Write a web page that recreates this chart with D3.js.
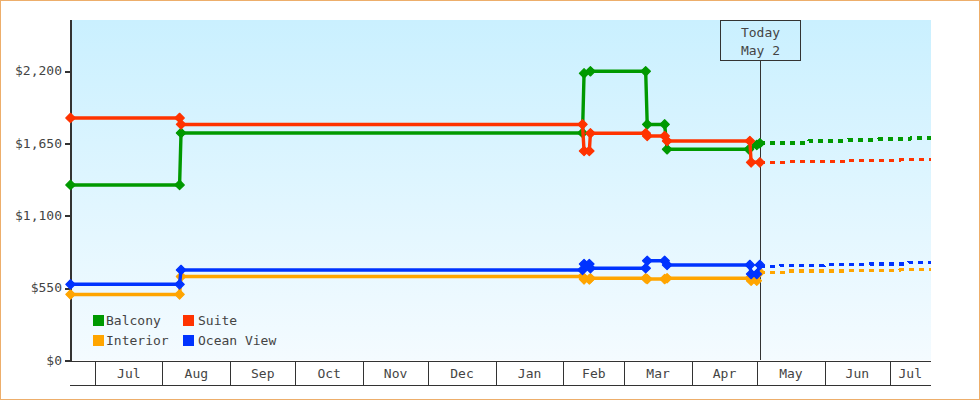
<!DOCTYPE html>
<html><head><meta charset="utf-8">
<style>
html,body{margin:0;padding:0;background:#fff}
svg{display:block}
text{font-family:"DejaVu Sans Mono",monospace;font-size:13px;fill:#444}
</style>
<script src="https://cdn.jsdelivr.net/npm/d3@7"></script>
</head><body><svg id="c" width="980" height="400"></svg>
<script>
const seriesNames = ["Balcony","Suite","Interior","Ocean View"];
const seriesColors = ["#009900","#ff3300","#ffa500","#0033ff"];
const yTicks = [0,550,1100,1650,2200];
const monthStarts = ["2014-07-01","2014-08-01","2014-09-01","2014-10-01","2014-11-01","2014-12-01","2015-01-01","2015-02-01","2015-03-01","2015-04-01","2015-05-01","2015-06-01","2015-07-01"];
const monthLabels = ["Jul","Aug","Sep","Oct","Nov","Dec","Jan","Feb","Mar","Apr","May","Jun","Jul"];
const xStart = "2014-06-19T12:00", xEnd = "2015-07-19T14:00", today = "2015-05-02T00:00";

const balconyDates = ["2014-06-19T12:00","2014-08-08T14:00","2014-08-09T06:00","2015-02-09T14:00","2015-02-10T07:00","2015-02-13T05:00","2015-03-10T14:00","2015-03-11T07:00","2015-03-19T07:00","2015-03-20T10:00","2015-04-27T00:00","2015-04-30T14:00","2015-05-02T00:00"];
const balconyValues = [1334,1334,1729,1729,2182,2198,2198,1794,1794,1605,1605,1638,1651];
const suiteDates = ["2014-06-19T12:00","2014-08-08T14:00","2014-08-09T06:00","2015-02-09T14:00","2015-02-10T07:00","2015-02-12T17:00","2015-02-13T05:00","2015-03-10T14:00","2015-03-11T07:00","2015-03-19T07:00","2015-03-20T10:00","2015-04-27T10:00","2015-04-28T00:00","2015-05-02T00:00"];
const suiteValues = [1843,1843,1794,1794,1592,1592,1727,1727,1706,1706,1668,1668,1506,1506];
const interiorDates = ["2014-06-19T12:00","2014-08-08T14:00","2014-08-09T06:00","2015-02-09T14:00","2015-02-10T07:00","2015-02-12T17:00","2015-02-13T05:00","2015-03-10T14:00","2015-03-11T07:00","2015-03-19T07:00","2015-03-20T10:00","2015-04-27T10:00","2015-04-28T00:00","2015-04-30T14:00","2015-05-02T00:00"];
const interiorValues = [502,502,638,638,617,617,625,625,619,619,625,625,606,606,670];
const oceanDates = ["2014-06-19T12:00","2014-08-08T14:00","2014-08-09T06:00","2015-02-09T14:00","2015-02-10T07:00","2015-02-12T17:00","2015-02-13T05:00","2015-03-10T14:00","2015-03-11T07:00","2015-03-19T07:00","2015-03-20T10:00","2015-04-27T10:00","2015-04-28T00:00","2015-04-30T14:00","2015-05-02T00:00"];
const oceanValues = [579,579,688,688,733,733,701,701,758,758,726,726,657,657,726];

const balconyFutureDates = ["2015-05-02T00:00","2015-05-24T00:00","2015-05-24T12:00","2015-06-11T00:00","2015-06-11T12:00","2015-06-25T00:00","2015-06-25T12:00","2015-07-10T00:00","2015-07-10T12:00","2015-07-19T14:00"];
const balconyFutureValues = [1651,1651,1668,1668,1676,1676,1681,1681,1689,1689];
const suiteFutureDates = ["2015-05-02T00:00","2015-05-15T00:00","2015-05-15T12:00","2015-06-11T00:00","2015-06-11T12:00","2015-07-05T00:00","2015-07-05T12:00","2015-07-19T14:00"];
const suiteFutureValues = [1506,1506,1511,1511,1521,1521,1526,1526];
const interiorFutureDates = ["2015-05-02T00:00","2015-05-15T00:00","2015-05-15T12:00","2015-06-11T00:00","2015-06-11T12:00","2015-07-05T00:00","2015-07-05T12:00","2015-07-19T14:00"];
const interiorFutureValues = [670,670,678,678,685,685,693,693];
const oceanFutureDates = ["2015-05-02T00:00","2015-05-11T00:00","2015-05-11T12:00","2015-05-31T12:00","2015-06-01T00:00","2015-06-21T00:00","2015-06-21T12:00","2015-07-09T00:00","2015-07-09T12:00","2015-07-19T14:00"];
const oceanFutureValues = [714,714,722,722,730,730,734,734,745,745];

const pd = s => new Date(s.length<=10 ? s+"T00:00Z" : s+"Z");
const solid = [[balconyDates,balconyValues],[suiteDates,suiteValues],[interiorDates,interiorValues],[oceanDates,oceanValues]];
const future = [[balconyFutureDates,balconyFutureValues],[suiteFutureDates,suiteFutureValues],[interiorFutureDates,interiorFutureValues],[oceanFutureDates,oceanFutureValues]];
const zip = ([ds,vs]) => ds.map((d,i)=>({d:pd(d),v:vs[i]}));

const x = d3.scaleUtc().domain([pd(xStart),pd(xEnd)]).range([70.5,931]);
const y = d3.scaleLinear().domain([0,2200]).range([360.5,71]);
const svg = d3.select("#c");
const ink = "#333";

const defs = svg.append("defs");
const g = defs.append("linearGradient").attr("id","bg").attr("x1",0).attr("y1",0).attr("x2",0).attr("y2",1);
g.append("stop").attr("offset",0).attr("stop-color","#caf0ff");
g.append("stop").attr("offset",1).attr("stop-color","#f4fbff");
defs.append("clipPath").attr("id","clip").append("rect").attr("x",60).attr("y",20).attr("width",871).attr("height",345);

svg.append("rect").attr("x",72).attr("y",20).attr("width",859).attr("height",340).attr("fill","url(#bg)");

// today marker
const tx = Math.round(x(pd(today)))+0.5;
svg.append("rect").attr("x",720.5).attr("y",20.5).attr("width",80).attr("height",40).attr("fill","none").attr("stroke",ink).attr("shape-rendering","crispEdges");
svg.append("line").attr("x1",tx).attr("x2",tx).attr("y1",60).attr("y2",360).attr("stroke",ink).attr("shape-rendering","crispEdges");
svg.append("text").attr("x",760.5).attr("y",37).attr("text-anchor","middle").text("Today");
svg.append("text").attr("x",760.5).attr("y",55).attr("text-anchor","middle").text("May 2");

// axes
const yAxis = svg.append("g").attr("transform","translate(71,0)")
  .call(d3.axisLeft(y).tickValues(yTicks).tickSize(6).tickPadding(3).tickFormat(d=>"$"+d3.format(",")(d)));
yAxis.select(".domain").remove();
yAxis.selectAll("line").attr("stroke",ink).attr("stroke-width",2).attr("shape-rendering","crispEdges");
yAxis.selectAll("text").attr("font-size",null).attr("dy","0.28em");
svg.append("line").attr("x1",71).attr("x2",71).attr("y1",20).attr("y2",362).attr("stroke",ink).attr("stroke-width",2).attr("shape-rendering","crispEdges");

const monthDates = monthStarts.map(pd);
const xAxis = svg.append("g").attr("transform","translate(-0.6,360.5)")
  .call(d3.axisBottom(x).tickValues(monthDates).tickSize(25).tickSizeOuter(0).tickFormat(""));
xAxis.select(".domain").attr("stroke",ink).attr("shape-rendering","crispEdges");
xAxis.selectAll("line").attr("stroke",ink).attr("shape-rendering","crispEdges");
svg.append("line").attr("x1",70).attr("x2",931).attr("y1",385.5).attr("y2",385.5).attr("stroke",ink).attr("shape-rendering","crispEdges");
const edges = monthDates.map(x).concat([931]);
svg.selectAll("text.month").data(monthLabels).join("text").attr("class","month")
  .attr("x",(d,i)=>(edges[i]+edges[i+1])/2-0.5).attr("y",378).attr("text-anchor","middle").text(d=>d);

// series
const line = d3.line().x(d=>x(d.d)).y(d=>y(d.v));
const marker = d3.symbol().type(d3.symbolSquare).size(44);
const plot = svg.append("g").attr("clip-path","url(#clip)");
seriesNames.forEach((n,i)=>{
  plot.append("path").datum(zip(future[i])).attr("d",line).attr("fill","none")
    .attr("stroke",seriesColors[i]).attr("stroke-width",3.6).attr("stroke-dasharray","5,5").attr("shape-rendering","crispEdges");
});
seriesNames.forEach((n,i)=>{
  const pts = zip(solid[i]);
  plot.append("path").datum(pts).attr("d",line).attr("fill","none")
    .attr("stroke",seriesColors[i]).attr("stroke-width",3.4).attr("shape-rendering","geometricPrecision");
  plot.selectAll(null).data(pts).join("path").attr("d",marker)
    .attr("transform",d=>`translate(${x(d.d)},${y(d.v)}) rotate(45)`)
    .attr("fill",seriesColors[i]).attr("stroke",seriesColors[i]).attr("stroke-width",1.2).attr("stroke-linejoin","round");
});

// legend
const lx = [93,183], ly = [315,335], tx2 = [106,198];
seriesNames.forEach((n,i)=>{
  const c = i%2, r = i>>1;
  svg.append("rect").attr("x",lx[c]).attr("y",ly[r]).attr("width",11).attr("height",11).attr("fill",seriesColors[i]);
  svg.append("text").attr("x",tx2[c]).attr("y",ly[r]+10).text(n);
});

// outer border
svg.append("rect").attr("x",0.5).attr("y",0.5).attr("width",979).attr("height",399).attr("fill","none").attr("stroke","#edae6b").attr("shape-rendering","crispEdges");
</script></body></html>
